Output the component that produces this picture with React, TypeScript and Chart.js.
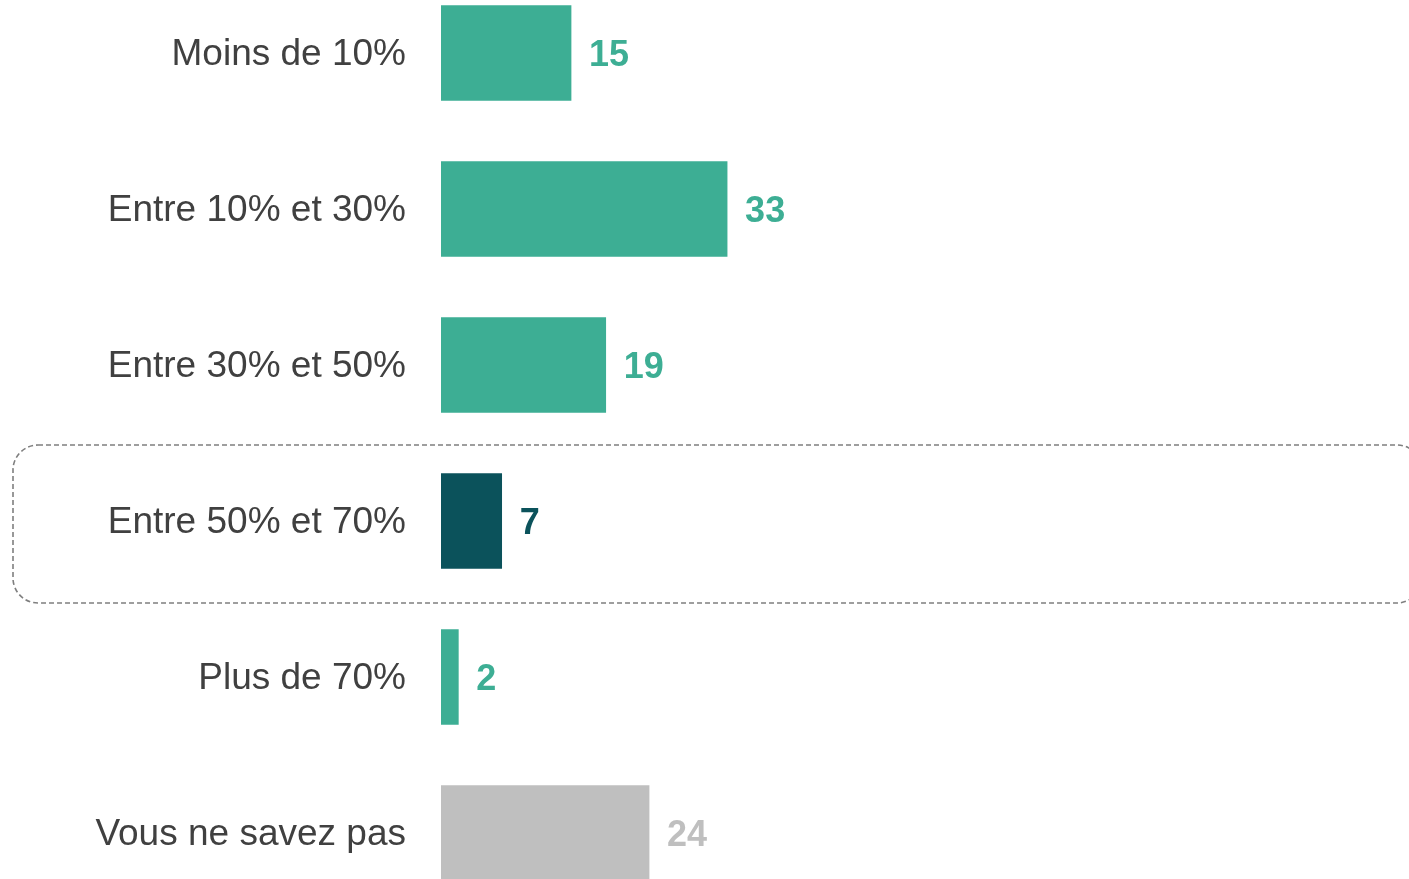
import React, { useEffect, useRef } from "react";
import { Chart, registerables } from "chart.js";

Chart.register(...registerables);

const categories = [
  "Moins de 10%",
  "Entre 10% et 30%",
  "Entre 30% et 50%",
  "Entre 50% et 70%",
  "Plus de 70%",
  "Vous ne savez pas",
];
const values = [15, 33, 19, 7, 2, 24];
const barColors = ["#3dae94", "#3dae94", "#3dae94", "#0b525b", "#3dae94", "#bfbfbf"];
const highlightIndex = 3;

const FONT = "'Liberation Sans', Arial, sans-serif";

const labelsPlugin = {
  id: "labels",
  afterDatasetsDraw(chart: any) {
    const { ctx } = chart;
    const meta = chart.getDatasetMeta(0);
    ctx.save();
    ctx.textBaseline = "middle";
    meta.data.forEach((bar: any, i: number) => {
      ctx.font = `37px ${FONT}`;
      ctx.textAlign = "right";
      ctx.fillStyle = "#404040";
      ctx.fillText(categories[i], chart.chartArea.left - 35, bar.y + 2);
      ctx.font = `bold 36px ${FONT}`;
      ctx.textAlign = "left";
      ctx.fillStyle = barColors[i];
      ctx.fillText(String(values[i]), bar.x + 18, bar.y + 3);
    });
    ctx.restore();
  },
};

const highlightBoxPlugin = {
  id: "highlightBox",
  afterDraw(chart: any) {
    const { ctx } = chart;
    const y = chart.scales.y.getPixelForValue(highlightIndex);
    const top = y - 76;
    const bottom = y + 82;
    const left = 13;
    const right = 1422;
    const r = 25;
    ctx.save();
    ctx.strokeStyle = "#7f7f7f";
    ctx.lineWidth = 1.6;
    ctx.setLineDash([5, 3]);
    ctx.beginPath();
    ctx.moveTo(left + r, top);
    ctx.lineTo(right - r, top);
    ctx.arcTo(right, top, right, top + r, r);
    ctx.lineTo(right, bottom - r);
    ctx.arcTo(right, bottom, right - r, bottom, r);
    ctx.lineTo(left + r, bottom);
    ctx.arcTo(left, bottom, left, bottom - r, r);
    ctx.lineTo(left, top + r);
    ctx.arcTo(left, top, left + r, top, r);
    ctx.closePath();
    ctx.stroke();
    ctx.restore();
  },
};

export default function App() {
  const canvasRef = useRef<HTMLCanvasElement | null>(null);

  useEffect(() => {
    if (!canvasRef.current) return;
    const chart = new Chart(canvasRef.current, {
      type: "bar",
      data: {
        labels: categories,
        datasets: [
          {
            data: values,
            backgroundColor: barColors,
            barThickness: 95,
            borderWidth: 0,
          },
        ],
      },
      options: {
        indexAxis: "y",
        animation: false,
        responsive: true,
        maintainAspectRatio: false,
        layout: { padding: { left: 441, right: 101, top: 0, bottom: 0 } },
        plugins: {
          legend: { display: false },
          tooltip: { enabled: false },
        },
        scales: {
          x: {
            display: false,
            min: 0,
            max: 100,
          },
          y: {
            display: false,
          },
        },
      },
      plugins: [labelsPlugin, highlightBoxPlugin],
    });
    return () => chart.destroy();
  }, []);

  return (
    <div
      style={{
        position: "fixed",
        left: 0,
        top: 0,
        width: 1409,
        height: 879,
        overflow: "hidden",
        background: "#ffffff",
      }}
    >
      <div style={{ position: "absolute", left: 0, top: -25.5, width: 1409, height: 936 }}>
        <canvas ref={canvasRef} />
      </div>
    </div>
  );
}
